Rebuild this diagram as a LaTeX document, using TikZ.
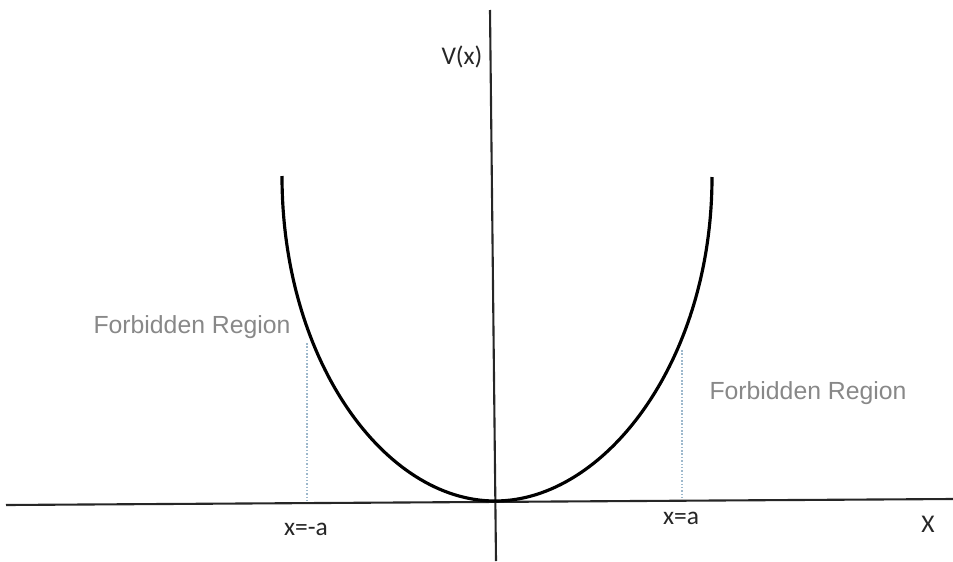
\documentclass[tikz,border=0pt]{standalone}
\usepackage{fontspec}
\setmainfont{Carlito}
\newfontfamily\labelfont{Liberation Sans}
\usepackage{tikz}
\definecolor{regionGray}{HTML}{888888}
\definecolor{dotBlue}   {HTML}{9DB8CC}
\tikzset{
  axis/.style={line width=1.2pt, black!85},
  well/.style={line width=1.8pt, black},
  turnline/.style={dotBlue, line width=0.9pt, densely dotted},
  axislabel/.style={font=\fontsize{14.5}{16}\selectfont, text=black!85, inner sep=0pt},
  regionlabel/.style={font=\labelfont\fontsize{14.1}{16}\selectfont, text=regionGray, inner sep=0pt}
}
\newcommand{\forbidden}[2]{%
  \node[regionlabel] (#1) at (#2) {Forbidden Region};%
}

\begin{document}
\begin{tikzpicture}[x=0.02cm, y=-0.02cm]
\useasboundingbox (0,0) rectangle (953,561);

% --- AXES ---
\coordinate (xL) at (6,505);
\coordinate (xR) at (953,499);
\coordinate (vT) at (490,10);
\coordinate (vB) at (496,561);
\draw[axis] (xL) -- (xR);
\draw[axis] (vT) -- (vB);

% --- POTENTIAL WELL ---
\coordinate (wellMin) at (495,501);
\coordinate (wellL) at (282,176);
\coordinate (wellR) at (712,177);
\draw[well] (wellL) .. controls (282,361) and (385,501) .. (wellMin)
  .. controls (605,501) and (712,361) .. (wellR);

% --- TURNING POINTS ---
\coordinate (turnLTop) at (307,343);
\coordinate (turnLBot) at (307,502);
\coordinate (turnRTop) at (682,350);
\coordinate (turnRBot) at (682,500);
\draw[turnline] (turnLTop) -- (turnLBot);
\draw[turnline] (turnRTop) -- (turnRBot);

% --- LABELS ---
\node[axislabel] (vlabel) at (462,57) {V(x)};
\node[axislabel] (xlabel) at (928,524) {X};
\node[axislabel] (aminus) at (306,529) {x=-a};
\node[axislabel] (aplus)  at (681,518) {x=a};
\forbidden{leftregion}{192,327}
\forbidden{rightregion}{808,393}

\end{tikzpicture}
\end{document}
